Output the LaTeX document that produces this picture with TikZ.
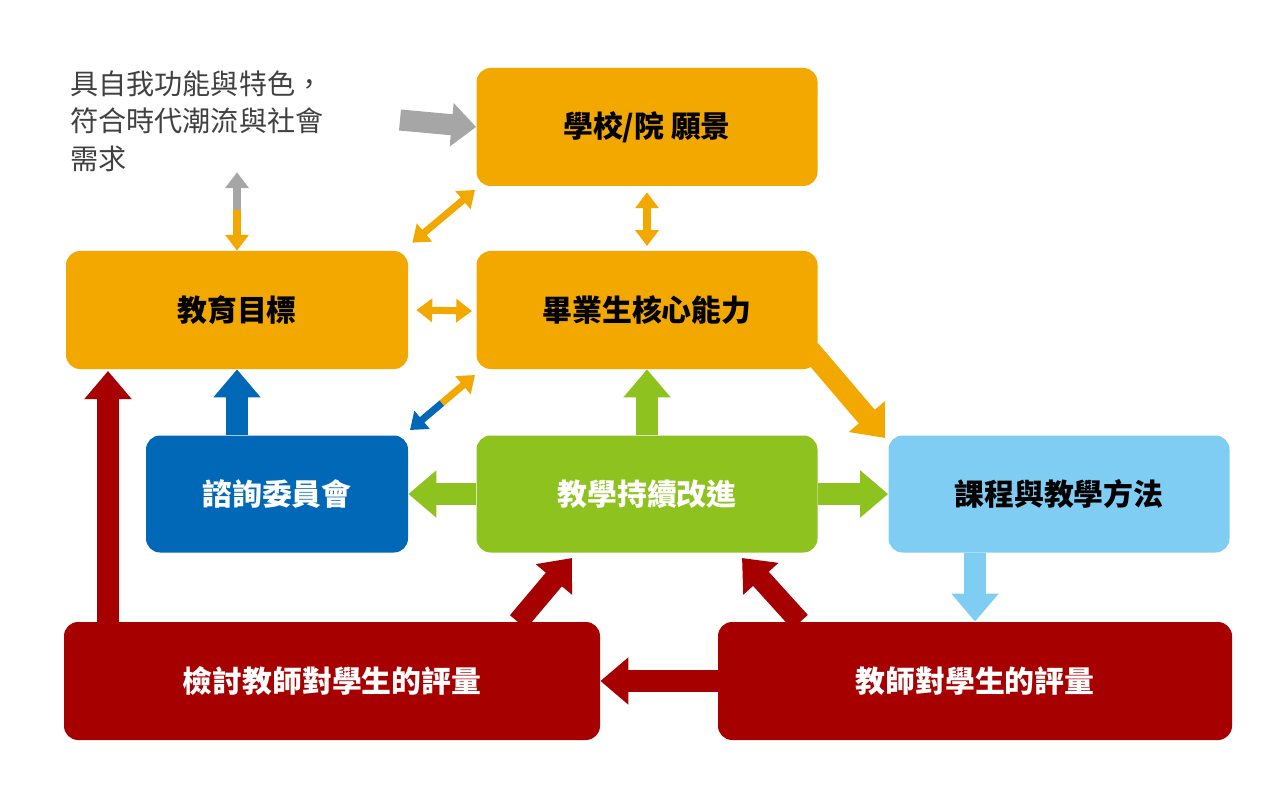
\documentclass[tikz,border=0pt]{standalone}
\usepackage{fontspec}
\setmainfont{Noto Sans CJK TC}
\usetikzlibrary{arrows.meta}
\definecolor{boxorange}{HTML}{F3A800}
\definecolor{boxblue}{HTML}{0068B7}
\definecolor{boxgreen}{HTML}{8DC21F}
\definecolor{boxsky}{HTML}{80CDF4}
\definecolor{boxred}{HTML}{A60000}
\definecolor{arrgray}{HTML}{A6A6A6}
\begin{document}
\begin{tikzpicture}[x=0.02cm,y=-0.02cm,
  box_style/.style={rounded corners=8pt,inner sep=0pt,font=\bfseries\fontsize{17}{20}\selectfont},
  thin_arrow/.style={line width=4pt,{Triangle[length=9pt,width=13pt]}-{Triangle[length=9pt,width=13pt]}},
  half_arrow/.style={line width=4pt,-{Triangle[length=9pt,width=13pt]}},
  thick_arrow/.style={line width=12pt,-{Triangle[length=16pt,width=26pt]}}]
  \useasboundingbox (0,0) rectangle (1288,787);
  % boxes
  \node[box_style,fill=boxorange,minimum width=341*0.02cm,minimum height=118*0.02cm] (vision) at (647,127) {學校/院 願景};
  \node[box_style,fill=boxorange,minimum width=342*0.02cm,minimum height=118*0.02cm] (goal) at (237,310) {教育目標};
  \node[box_style,fill=boxorange,minimum width=341*0.02cm,minimum height=118*0.02cm] (core) at (647,310) {畢業生核心能力};
  \node[box_style,fill=boxblue,text=white,minimum width=262*0.02cm,minimum height=117*0.02cm] (board) at (277,494) {諮詢委員會};
  \node[box_style,fill=boxgreen,text=white,minimum width=341*0.02cm,minimum height=117*0.02cm] (improve) at (647,494) {教學持續改進};
  \node[box_style,fill=boxsky,minimum width=341*0.02cm,minimum height=117*0.02cm] (course) at (1059,494) {課程與教學方法};
  \node[box_style,fill=boxred,text=white,minimum width=536*0.02cm,minimum height=118*0.02cm] (review) at (332,681) {檢討教師對學生的評量};
  \node[box_style,fill=boxred,text=white,minimum width=514*0.02cm,minimum height=118*0.02cm] (assess) at (975,681) {教師對學生的評量};
  \node[anchor=north west,align=left,inner sep=0pt,text=black!75,font=\fontsize{16}{21.5}\selectfont] (need) at (70,70) {具自我功能與特色，\\符合時代潮流與社會\\需求};
  % helper points
  \coordinate (p1) at (237,210);
  \coordinate (p2) at (442,218);
  \coordinate (p3) at (442,403);
  % arrows
  \draw[line width=12pt,arrgray,-{Triangle[length=14pt,width=24pt]}] (400,120) -- (vision.west);
  \draw[half_arrow,arrgray] (p1) -- (need.south -| p1);
  \draw[half_arrow,boxorange] (p1) -- (goal.north);
  \draw[thin_arrow,boxorange] (goal.north east) ++(4,-8) -- (475,190);
  \draw[thin_arrow,boxorange] (vision.south) ++(0,6) -- (647,246);
  \draw[thin_arrow,boxorange] (goal.east) ++(8,0) -- (472,311);
  \draw[half_arrow,boxblue] (p3) -- (410,430);
  \draw[half_arrow,boxorange] (p3) -- (475,375);
  \draw[thick_arrow,boxblue] (board.north -| goal) -- (goal.south);
  \draw[thick_arrow,boxgreen] (improve.north) -- (core.south);
  \draw[thick_arrow,boxgreen] (improve.west) -- (board.east);
  \draw[thick_arrow,boxgreen] (improve.east) -- (course.west);
  \draw[thick_arrow,boxorange] (810,350) -- (885,438);
  \draw[thick_arrow,boxsky] (course.south -| assess) -- (assess.north);
  \draw[thick_arrow,boxred] (review.north -| 108,0) -- (108,371);
  \draw[thick_arrow,boxred] (518,622) -- (572,558);
  \draw[thick_arrow,boxred] (800,622) -- (742,558);
  \draw[thick_arrow,boxred] (assess.west) -- (review.east);
\end{tikzpicture}
\end{document}
